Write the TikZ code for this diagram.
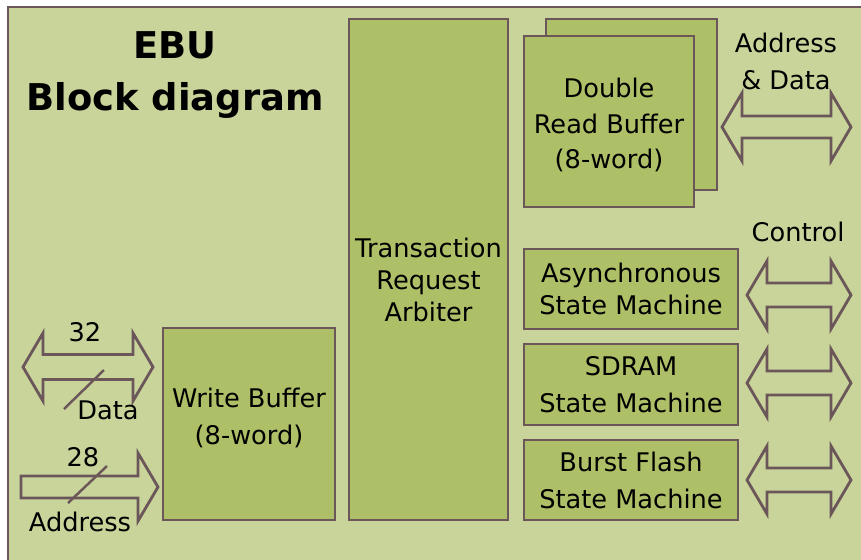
\documentclass[tikz,border=0pt]{standalone}
\usepackage{fontspec}
\setmainfont{DejaVu Sans}
\definecolor{panel}{HTML}{C8D49A}
\definecolor{blockfill}{HTML}{AEC067}
\definecolor{edge}{HTML}{6B575A}
% double-headed outline arrow: left tip x, right tip x, centre y, shaft half height
\newcommand{\dualarrow}[4]{%
  \draw[arrowline] (#1,#3) -- ({#1+20},{#3-34}) -- ({#1+20},{#3-#4}) -- ({#2-20},{#3-#4})
    -- ({#2-20},{#3-34}) -- (#2,#3) -- ({#2-20},{#3+34}) -- ({#2-20},{#3+#4})
    -- ({#1+20},{#3+#4}) -- ({#1+20},{#3+34}) -- cycle;}
\begin{document}
\begin{tikzpicture}[x=0.02cm, y=-0.02cm,
    block/.style={draw=edge, fill=blockfill, line width=1.4pt, align=center,
      font=\fontsize{14.6}{18}\selectfont},
    tallblock/.style={block, font=\fontsize{14.6}{21}\selectfont},
    arrowline/.style={draw=edge, line width=1.6pt, line join=miter},
    label/.style={font=\fontsize{14.6}{18}\selectfont, align=center},
    busmark/.style={draw=edge, line width=1.4pt}]
    \useasboundingbox (0,0) rectangle (861,559);
    % 1. Nền
    \fill[white] (0,0) rectangle (861,559);
    \draw[edge, fill=panel, line width=1.4pt] (8,7) rectangle (875,575);

    % 2. Tiêu đề
    \node[font=\fontsize{21}{30}\selectfont\bfseries, align=center] (title) at (175,75)
        {EBU\\Block diagram};

    % 3. Các khối
    \node[block, minimum width=3.18cm, minimum height=10.02cm] (arbiter) at (428.5,269.5) {};
    \node[label] (arbtext) at (428.5,280) {Transaction\\Request\\Arbiter};
    \node[tallblock, minimum width=3.44cm, minimum height=3.84cm] (wbuf) at (249,424) {};
    \node[label, font=\fontsize{14.6}{21}\selectfont] (wbuftext) at (249,418)
        {Write Buffer\\(8-word)};
    \node[block, minimum width=3.42cm, minimum height=3.42cm] (rbufback) at (631.5,104.5) {};
    \node[tallblock, minimum width=3.40cm, minimum height=3.42cm] (rbuf) at (609,121.5) {};
    \node[label, font=\fontsize{14.6}{20}\selectfont] (rbuftext) at (609,125)
        {Double\\Read Buffer\\(8-word)};
    \node[block, minimum width=4.28cm, minimum height=1.60cm] (async) at (631,289)
        {Asynchronous\\State Machine};
    \node[tallblock, minimum width=4.28cm, minimum height=1.62cm] (sdram) at (631,384.5)
        {SDRAM\\State Machine};
    \node[tallblock, minimum width=4.28cm, minimum height=1.60cm] (flash) at (631,480)
        {Burst Flash\\State Machine};

    % 4. Mũi tên bên phải
    \dualarrow{722}{851}{127}{11}
    \node[label, font=\fontsize{14.6}{21}\selectfont] (adlabel) at (786,61) {Address\\\& Data};
    \dualarrow{747}{851}{295}{12}
    \dualarrow{747}{851}{383}{12}
    \dualarrow{747}{851}{480}{12}
    \node[label] (ctrllabel) at (798,232) {Control};

    % 5. Bus dữ liệu và địa chỉ bên trái
    \dualarrow{23}{153}{367}{12.5}
    \draw[busmark] (64,409) -- (104,370);
    \node[label] (datawidth) at (85,332) {32};
    \node[label] (datalabel) at (108,410) {Data};

    \draw[arrowline] (21,476) -- (138,476) -- (138,453) -- (158,487) -- (138,521)
        -- (138,498) -- (21,498) -- cycle;
    \draw[busmark] (68,503) -- (107,466);
    \node[label] (addrwidth) at (83,457) {28};
    \node[label] (addrlabel) at (80,522) {Address};
\end{tikzpicture}
\end{document}
